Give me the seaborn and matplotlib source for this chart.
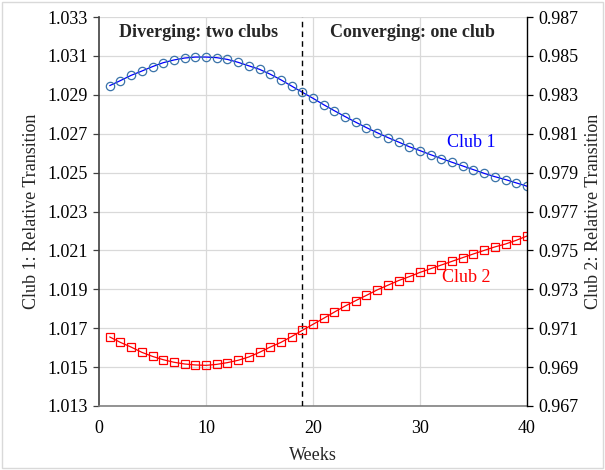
import numpy as np
import pandas as pd
import matplotlib
matplotlib.use("Agg")
import matplotlib.pyplot as plt
import seaborn as sns
from matplotlib.patches import Rectangle

# 数据：周数与两个俱乐部的相对转移值
weeks = list(range(1, 41))
club1 = [1.02947, 1.02973, 1.03000, 1.03022, 1.03045, 1.03065, 1.03079, 1.03089, 1.03094, 1.03094,
         1.03091, 1.03082, 1.03067, 1.03049, 1.03031, 1.03006, 1.02977, 1.02945, 1.02913, 1.02882,
         1.02849, 1.02818, 1.02788, 1.02759, 1.02731, 1.02705, 1.02680, 1.02657, 1.02633, 1.02613,
         1.02592, 1.02572, 1.02553, 1.02534, 1.02515, 1.02496, 1.02479, 1.02464, 1.02447, 1.02430]
club2 = [0.97055, 0.97027, 0.97003, 0.96976, 0.96955, 0.96938, 0.96925, 0.96916, 0.96911, 0.96909,
         0.96914, 0.96923, 0.96935, 0.96952, 0.96976, 0.97003, 0.97027, 0.97057, 0.97089, 0.97120,
         0.97151, 0.97183, 0.97214, 0.97242, 0.97269, 0.97297, 0.97321, 0.97345, 0.97365, 0.97387,
         0.97406, 0.97425, 0.97444, 0.97463, 0.97482, 0.97500, 0.97518, 0.97533, 0.97552, 0.97574]
left_ticks = [1.013, 1.015, 1.017, 1.019, 1.021, 1.023, 1.025, 1.027, 1.029, 1.031, 1.033]
right_ticks = [0.967, 0.969, 0.971, 0.973, 0.975, 0.977, 0.979, 0.981, 0.983, 0.985, 0.987]
x_ticks = [0, 10, 20, 30, 40]
split_week = 19

df = pd.DataFrame({'Weeks': weeks, 'Club 1': club1, 'Club 2': club2})

sns.set_theme(style="white")
plt.rcParams['font.family'] = ['Liberation Serif', 'DejaVu Serif']

fig = plt.figure(figsize=(6.05, 4.7), dpi=100)
ax = fig.add_axes([99 / 605, 1 - 406 / 470, 428 / 605, 389 / 470])
ax2 = ax.twinx()

# 网格线
ax.set_axisbelow(True)
for t in left_ticks:
    ax.axhline(t, color='#d9d9d9', lw=0.9, zorder=0)
for t in x_ticks[1:-1]:
    ax.axvline(t, color='#d9d9d9', lw=0.9, zorder=0)

# 俱乐部1（左轴）
sns.lineplot(data=df, x='Weeks', y='Club 1', ax=ax, color='#0000ff', lw=0.9,
             marker='o', markersize=6, markerfacecolor='none',
             markeredgecolor='#3a73a8', markeredgewidth=0.9)
# 俱乐部2（右轴）
sns.lineplot(data=df, x='Weeks', y='Club 2', ax=ax2, color='#ff0000', lw=0.9,
             marker='s', markersize=5.5, markerfacecolor='none',
             markeredgecolor='#ff0000', markeredgewidth=0.9)

ax.axvline(split_week, color='black', lw=1.0, ls=(0, (4, 3)), zorder=3)

ax.set_xlim(0, 40)
ax.set_ylim(1.013, 1.033)
ax2.set_ylim(0.967, 0.987)
ax.set_xticks(x_ticks)
ax.set_yticks(left_ticks)
ax2.set_yticks(right_ticks)
ax.set_yticklabels([f'{t:.3f}' for t in left_ticks])
ax2.set_yticklabels([f'{t:.3f}' for t in right_ticks])

fs = 13
ax.tick_params(axis='x', length=0, labelsize=fs, pad=10, colors='black')
ax.tick_params(axis='y', length=4, width=0.9, direction='out', labelsize=fs,
               colors='#404040', labelcolor='black', left=True, pad=4)
ax2.tick_params(axis='y', length=4, width=0.9, direction='out', labelsize=fs,
                colors='black', right=True, pad=4)

ax.set_xlabel('Weeks', fontsize=fs, labelpad=7)
ax.set_ylabel('Club 1: Relative Transition', fontsize=fs, labelpad=5)
ax2.set_ylabel('Club 2: Relative Transition', fontsize=fs, labelpad=5)

for a in (ax, ax2):
    a.spines['top'].set_visible(False)
ax.spines['left'].set_color('#404040')
ax.spines['bottom'].set_color('#808080')
ax.spines['right'].set_visible(False)
ax2.spines['left'].set_visible(False)
ax2.spines['bottom'].set_visible(False)
ax2.spines['right'].set_color('black')
for s in ('left', 'bottom'):
    ax.spines[s].set_linewidth(1.2)
ax2.spines['right'].set_linewidth(1.0)

ax.text(9.35, 1.0322, 'Diverging: two clubs', ha='center', va='center',
        fontsize=fs, fontweight='bold')
ax.text(29.25, 1.0322, 'Converging: one club', ha='center', va='center',
        fontsize=fs, fontweight='bold')
ax.text(34.8, 1.02657, 'Club 1', ha='center', va='center', fontsize=fs, color='#0000ff')
ax.text(34.3, 1.0196, 'Club 2', ha='center', va='center', fontsize=fs, color='#ff0000')

# 外边框
fig.patches.append(Rectangle((2 / 605, 2 / 470), 1 - 4 / 605, 1 - 4 / 470,
                             transform=fig.transFigure, fill=False,
                             edgecolor='#d9d9d9', lw=1.0))

fig.savefig('out.png', dpi=100)
